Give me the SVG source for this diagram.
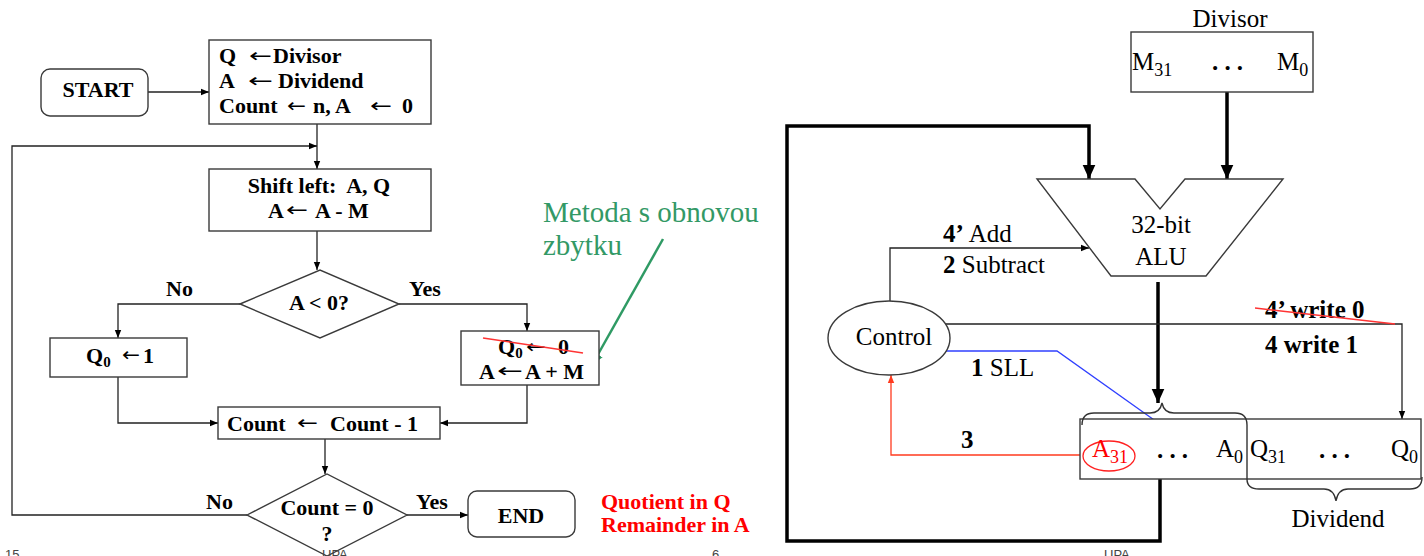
<svg xmlns="http://www.w3.org/2000/svg" width="1424" height="556" viewBox="0 0 1424 556">
<defs>
<style>
.b{font-family:"Liberation Serif","Times New Roman",serif;font-weight:bold;font-size:22px;fill:#000}
.r{font-family:"Liberation Serif","Times New Roman",serif;font-size:25px;fill:#000}
.rb{font-family:"Liberation Serif","Times New Roman",serif;font-size:25px;font-weight:bold;fill:#000}
.ar{font-family:"DejaVu Sans","Liberation Serif",sans-serif;font-size:19px;fill:#000}
.gr{font-family:"Liberation Serif","Times New Roman",serif;font-size:29px;fill:#339966}
.red{font-family:"Liberation Serif","Times New Roman",serif;font-weight:bold;font-size:22px;fill:#ff0000}
.box{fill:#fff;stroke:#3a3a3a;stroke-width:1.4}
.ln{fill:none;stroke:#222;stroke-width:1.3}
.thk{fill:none;stroke:#000;stroke-width:3.5}
.foot{font-family:"Liberation Sans",Arial,sans-serif;font-size:13px;fill:#444}
.mid{text-anchor:middle}
</style>
<marker id="ah" viewBox="0 0 10 10" refX="10" refY="5" markerWidth="8" markerHeight="8" markerUnits="userSpaceOnUse" orient="auto"><path d="M0,1 L10,5 L0,9 z" fill="#000"/></marker>
<marker id="ahb" viewBox="0 0 10 10" refX="10" refY="5" markerWidth="14" markerHeight="14" markerUnits="userSpaceOnUse" orient="auto"><path d="M0,0.5 L10,5 L0,9.5 z" fill="#000"/></marker>
<marker id="abl" viewBox="0 0 10 10" refX="10" refY="5" markerWidth="9" markerHeight="9" markerUnits="userSpaceOnUse" orient="auto"><path d="M0,1 L10,5 L0,9 z" fill="#3040ff"/></marker>
<marker id="ablb" viewBox="0 0 10 10" refX="10" refY="5" markerWidth="12" markerHeight="12" markerUnits="userSpaceOnUse" orient="auto"><path d="M0,1 L10,5 L0,9 z" fill="#1a1aff"/></marker>
<marker id="ard" viewBox="0 0 10 10" refX="10" refY="5" markerWidth="8" markerHeight="8" markerUnits="userSpaceOnUse" orient="auto"><path d="M0,1 L10,5 L0,9 z" fill="#ff3b1f"/></marker>
<marker id="agr" viewBox="0 0 10 10" refX="10" refY="5" markerWidth="12" markerHeight="12" markerUnits="userSpaceOnUse" orient="auto"><path d="M0,0.5 L10,5 L0,9.5 z" fill="#2f9a64"/></marker>
</defs>
<rect width="1424" height="556" fill="#fff"/>

<g id="connectors">
<path class="ln" d="M148,92 H209" marker-end="url(#ah)"/>
<path class="ln" d="M317,124 V169" marker-end="url(#ah)"/>
<path class="ln" d="M247,515 H12 V146 H317" marker-end="url(#ah)"/>
<path class="ln" d="M317,231 V270" marker-end="url(#ah)"/>
<path class="ln" d="M240,304 H118 V338" marker-end="url(#ah)"/>
<path class="ln" d="M399,304 H527 V331" marker-end="url(#ah)"/>
<path class="ln" d="M118,377 V423 H218" marker-end="url(#ah)"/>
<path class="ln" d="M527,385 V423 H440" marker-end="url(#ah)"/>
<path class="ln" d="M325,439 V474" marker-end="url(#ah)"/>
<path class="ln" d="M407,515 H468" marker-end="url(#ah)"/>
<path d="M663,239 L592,365" fill="none" stroke="#2f9a64" stroke-width="2.5" marker-end="url(#agr)"/>
<path class="thk" d="M1160,479 V541 H787 V126 H1089 V179" marker-end="url(#ahb)"/>
<path class="thk" d="M1227,92 V179" marker-end="url(#ahb)"/>
<path class="thk" d="M1158,282 V403" marker-end="url(#ahb)"/>
<path class="ln" d="M890,301 V248 H1089" marker-end="url(#ah)"/>
<path class="ln" d="M945,324 H1402 V419" marker-end="url(#ah)"/>
<path d="M946,351 H1057 L1164,427" fill="none" stroke="#3040ff" stroke-width="1.3" marker-end="url(#abl)"/>
<path d="M1413,428 H1090" fill="none" stroke="#1a1aff" stroke-width="3" marker-end="url(#ablb)"/>
<path d="M1083,455 H891 V375" fill="none" stroke="#ff3b1f" stroke-width="1.3" marker-end="url(#ard)"/>
</g>

<g id="start">
<rect class="box" x="41" y="69" width="107" height="47" rx="9"/>
<text class="b mid" x="98" y="97">START</text>
</g>

<g id="init">
<rect class="box" x="209" y="40" width="222" height="84"/>
<text class="b" x="219" y="63">Q</text>
<text class="ar" x="249" y="62" textLength="23" lengthAdjust="spacingAndGlyphs">←</text>
<text class="b" x="273" y="63">Divisor</text>
<text class="b" x="219" y="88">A</text>
<text class="ar" x="248" y="87" textLength="25" lengthAdjust="spacingAndGlyphs">←</text>
<text class="b" x="278" y="88">Dividend</text>
<text class="b" x="219" y="113">Count</text>
<text class="ar" x="287" y="112" textLength="19" lengthAdjust="spacingAndGlyphs">←</text>
<text class="b" x="313" y="113">n, A</text>
<text class="ar" x="370" y="112" textLength="22" lengthAdjust="spacingAndGlyphs">←</text>
<text class="b" x="402" y="113">0</text>
</g>

<g id="shift">
<rect class="box" x="209" y="169" width="222" height="62"/>
<text class="b mid" x="319" y="193" xml:space="preserve">Shift left:  A, Q</text>
<text class="b" x="268" y="218">A</text>
<text class="ar" x="286" y="216" textLength="22" lengthAdjust="spacingAndGlyphs">←</text>
<text class="b" x="315" y="218">A - M</text>
</g>

<g id="test-a">
<polygon class="box" points="240,304 320,270 399,304 320,338"/>
<text class="b mid" x="319" y="310">A &lt; 0?</text>
<text class="b" x="166" y="296">No</text>
<text class="b" x="409" y="296">Yes</text>
</g>

<g id="set-q1">
<rect class="box" x="50" y="338" width="137" height="39"/>
<text class="b" x="86" y="363">Q<tspan dy="4" font-size="15">0</tspan></text>
<text class="ar" x="122" y="361" textLength="18" lengthAdjust="spacingAndGlyphs">←</text>
<text class="b" x="143" y="363">1</text>
</g>

<g id="restore">
<rect class="box" x="461" y="331" width="138" height="54"/>
<text class="b" x="498" y="354">Q<tspan dy="4" font-size="15">0</tspan></text>
<text class="ar" x="526" y="353" textLength="20" lengthAdjust="spacingAndGlyphs">←</text>
<text class="b" x="558" y="354">0</text>
<line x1="483" y1="338" x2="583" y2="353" stroke="#ff3333" stroke-width="1.5"/>
<text class="b" x="479" y="379">A</text>
<text class="ar" x="497" y="377" textLength="26" lengthAdjust="spacingAndGlyphs">←</text>
<text class="b" x="525" y="379">A + M</text>
</g>

<g id="note">
<text class="gr" x="543" y="222">Metoda s obnovou</text>
<text class="gr" x="543" y="255">zbytku</text>
</g>

<g id="decrement">
<rect class="box" x="218" y="407" width="222" height="32"/>
<text class="b" x="227" y="431">Count</text>
<text class="ar" x="297" y="429" textLength="21" lengthAdjust="spacingAndGlyphs">←</text>
<text class="b" x="330" y="431">Count - 1</text>
</g>

<g id="test-count">
<polygon class="box" points="247,515 327,474 407,515 327,556"/>
<text class="b mid" x="327" y="515">Count = 0</text>
<text class="b mid" x="327" y="541">?</text>
<text class="b" x="206" y="509">No</text>
<text class="b" x="416" y="509">Yes</text>
</g>

<g id="end">
<rect class="box" x="468" y="491" width="107" height="46" rx="9"/>
<text class="b mid" x="521" y="523">END</text>
</g>

<g id="result">
<text class="red" x="601" y="509">Quotient in Q</text>
<text class="red" x="601" y="532">Remainder in A</text>
</g>

<g id="divisor">
<text class="r mid" x="1230" y="27">Divisor</text>
<rect class="box" x="1131" y="32" width="182" height="60"/>
<text class="r" x="1132" y="70">M<tspan dy="6" font-size="18">31</tspan></text>
<text class="rb" x="1212" y="70" textLength="31" lengthAdjust="spacing">...</text>
<text class="r" x="1277" y="70">M<tspan dy="6" font-size="18">0</tspan></text>
</g>

<g id="alu">
<polygon class="box" points="1037,179 1135,179 1160,209 1185,179 1283,179 1206,276 1111,276"/>
<text class="r mid" x="1161" y="233">32-bit</text>
<text class="r mid" x="1161" y="265">ALU</text>
</g>

<g id="control">
<ellipse class="box" cx="889" cy="338" rx="61" ry="37"/>
<text class="r mid" x="894" y="345">Control</text>
</g>

<g id="labels">
<text class="r" x="943" y="242"><tspan font-weight="bold">4’</tspan> Add</text>
<text class="r" x="943" y="273"><tspan font-weight="bold">2</tspan> Subtract</text>
<text class="r" x="971" y="376"><tspan font-weight="bold">1</tspan> SLL</text>
<text class="rb" x="961" y="448">3</text>
<text class="rb" x="1265" y="318">4’ write 0</text>
<line x1="1255" y1="308" x2="1395" y2="324" stroke="#ff3333" stroke-width="1.5"/>
<text class="rb" x="1265" y="353">4 write 1</text>
</g>

<g id="register">
<rect class="box" x="1080" y="419" width="341" height="60"/>
<path d="M1082,425 Q1082,413 1094,413 H1150 Q1160,413 1162,403 Q1164,413 1174,413 H1235 Q1247,413 1247,425 V479" fill="none" stroke="#333" stroke-width="1.4"/>
<path d="M1247,479 Q1247,489 1259,489 H1324 Q1334,489 1336,501 Q1338,489 1348,489 H1410 Q1422,489 1422,477" fill="none" stroke="#333" stroke-width="1.4"/>
<ellipse cx="1109" cy="456" rx="26" ry="15" fill="none" stroke="#ff2020" stroke-width="1.3"/>
<text class="r" x="1092" y="457" style="fill:#ff0000">A<tspan dy="6" font-size="18">31</tspan></text>
<text class="rb" x="1157" y="458" textLength="31" lengthAdjust="spacing">...</text>
<text class="r" x="1216" y="457">A<tspan dy="6" font-size="18">0</tspan></text>
<text class="r" x="1250" y="457">Q<tspan dy="6" font-size="18">31</tspan></text>
<text class="rb" x="1319" y="458" textLength="31" lengthAdjust="spacing">...</text>
<text class="r" x="1391" y="457">Q<tspan dy="6" font-size="18">0</tspan></text>
<text class="r mid" x="1338" y="527">Dividend</text>
</g>

<g id="footer">
<text class="foot" x="5" y="559">15</text>
<text class="foot" x="322" y="559">UPA</text>
<text class="foot" x="712" y="559">6</text>
<text class="foot" x="1104" y="559">UPA</text>
</g>
</svg>
